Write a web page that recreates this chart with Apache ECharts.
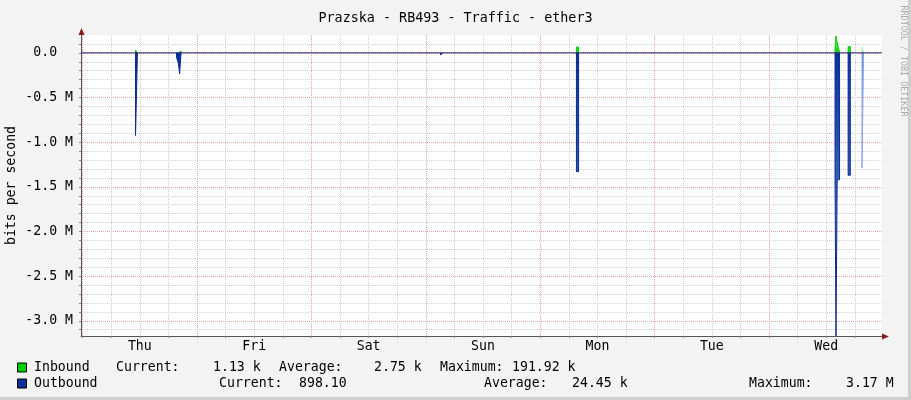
<!DOCTYPE html>
<html><head><meta charset="utf-8">
<script src="https://cdn.jsdelivr.net/npm/echarts@6/dist/echarts.min.js"></script>
<style>html,body{margin:0;padding:0;background:#f3f3f3}#c{width:911px;height:400px}</style>
</head><body><div id="c"></div>
<script>
// ---- data (hours since Thu 00:00, values in Mbit/s) ----
const chartTitle = 'Prazska - RB493 - Traffic - ether3';
const yAxisTitle = 'bits per second';
const dayLabels = ['Thu', 'Fri', 'Sat', 'Sun', 'Mon', 'Tue', 'Wed'];
const dayLabelHours = [12, 36, 60, 84, 108, 132, 156];
const xTickHours = [0, 6, 12, 18, 24, 30, 36, 42, 48, 54, 60, 66, 72, 78, 84, 90, 96, 102, 108, 114, 120, 126, 132, 138, 144, 150, 156, 162];
const yTickValues = [-3.1, -3.0, -2.9, -2.8, -2.7, -2.6, -2.5, -2.4, -2.3, -2.2, -2.1, -2.0, -1.9, -1.8, -1.7, -1.6, -1.5, -1.4, -1.3, -1.2, -1.1, -1.0, -0.9, -0.8, -0.7, -0.6, -0.5, -0.4, -0.3, -0.2, -0.1, 0, 0.1];
const yLabelValues = [-3.0, -2.5, -2.0, -1.5, -1.0, -0.5, 0];
const xRange = [-0.34, 167.66];
const yRange = [-3.17, 0.2];
const latestSampleStart = 163.5;   // most recent sample, drawn faded

// samples: [startHour, endHour, value]; value is 0 elsewhere
const inboundSamples = [
  [11.1, 11.5, 0.03], [20.1, 20.65, 0.02],
  [103.6, 104.05, 0.065],
  [157.85, 158.05, 0.06], [158.05, 158.3, 0.19], [158.3, 158.55, 0.11], [158.55, 158.8, 0.06],
  [160.6, 161.05, 0.07], [163.5, 163.85, 0.065]
];
const outboundSamples = [
  [11.1, 11.5, -0.925], [19.7, 20.1, -0.05], [20.1, 20.35, -0.12], [20.35, 20.65, -0.235],
  [75.1, 75.5, -0.025], [103.6, 104.05, -1.33],
  [157.85, 158.05, -1.42], [158.05, 158.3, -3.17], [158.3, 158.8, -1.42],
  [160.6, 161.05, -1.37], [163.5, 163.85, -1.29]
];

const legendRows = [
  {color: '#00cc00', texts: [['Inbound', 34], ['Current:', 116], ['1.13 k', 213], ['Average:', 279], ['2.75 k', 374], ['Maximum:', 440], ['191.92 k', 512]]},
  {color: '#0a3299', texts: [['Outbound', 34], ['Current:', 219], ['898.10', 299], ['Average:', 484], ['24.45 k', 572], ['Maximum:', 749], ['3.17 M', 846]]}
];

// build step-shaped pieces, separated by nulls (value is 0 between pieces)
function toSteps(samples) {
  const pts = [];
  let prevEnd = null;
  samples.forEach(s => {
    if (prevEnd !== null && prevEnd !== s[0]) { pts.push([prevEnd, 0]); pts.push(null); }
    if (prevEnd !== s[0]) { pts.push([s[0], 0]); }
    pts.push([s[0], s[2]]);
    pts.push([s[1], s[2]]);
    prevEnd = s[1];
  });
  pts.push([prevEnd, 0]);
  return pts.map(p => p === null ? [null, null] : p);
}
const older = s => s[0] < latestSampleStart;
const latest = s => s[0] >= latestSampleStart;

// ---- chart ----
const FONT = '"DejaVu Sans Mono", monospace';
const FS = 13.2;
const chart = echarts.init(document.getElementById('c'), null, {renderer: 'canvas'});

const graphics = [
  {type: 'rect', shape: {x: 908, y: 0, width: 3, height: 400}, style: {fill: '#cfcfcf'}, silent: true},
  {type: 'rect', shape: {x: 0, y: 397, width: 911, height: 3}, style: {fill: '#cfcfcf'}, silent: true},
  {type: 'line', shape: {x1: 81.5, y1: 35, x2: 81.5, y2: 31}, style: {stroke: '#555', lineWidth: 1}},
  {type: 'line', shape: {x1: 881, y1: 336.5, x2: 885, y2: 336.5}, style: {stroke: '#555', lineWidth: 1}},
  {type: 'polygon', shape: {points: [[81.5, 28], [78.5, 35], [84.5, 35]]}, style: {fill: '#8b1a1a'}},
  {type: 'polygon', shape: {points: [[889, 336.5], [882, 333.5], [882, 339.5]]}, style: {fill: '#8b1a1a'}},
  {type: 'text', x: 903, y: 61, rotation: -Math.PI / 2, style: {text: 'RRDTOOL / TOBI OETIKER', font: '8.4px ' + FONT, fill: '#aaaaaa', align: 'center', verticalAlign: 'middle'}}
];
legendRows.forEach((row, i) => {
  const yc = 368 + i * 16;
  graphics.push({type: 'rect', shape: {x: 17.5, y: yc - 5, width: 9, height: 9}, style: {fill: row.color, stroke: '#000', lineWidth: 1}});
  row.texts.forEach(t => {
    graphics.push({type: 'text', x: t[1], y: yc, style: {text: t[0], font: FS + 'px ' + FONT, fill: '#000', verticalAlign: 'middle', align: 'left'}});
  });
});

const gridGray = '#d0d0d0', gridRed = '#eda3a3';
const PXH = 800.8 / 168;      // px per hour
const PXM = 301 / 3.37;       // px per Mbit
const hidden = {show: false};
const hiddenAxis = (extra) => Object.assign({axisLine: hidden, axisTick: hidden, axisLabel: hidden, splitLine: hidden}, extra);
const grad = (c0, c1, c2) => ({type: 'linear', x: 0, y: 0, x2: 0, y2: 1, colorStops: c2 ? [{offset: 0, color: c0}, {offset: 0.5, color: c1}, {offset: 1, color: c2}] : [{offset: 0, color: c0}, {offset: 1, color: c1}]});
const stepSeries = (name, data, z, lineColor, areaColor) => ({
  name, type: 'line', xAxisIndex: 0, yAxisIndex: 0, data, symbol: 'none', z, connectNulls: false,
  lineStyle: {width: 1, color: lineColor}, areaStyle: {opacity: 1, color: areaColor}
});

chart.setOption({
  animation: false,
  backgroundColor: '#f3f3f3',
  title: {text: chartTitle, left: 'center', top: 7, textStyle: {fontFamily: FONT, fontSize: 13.4, fontWeight: 'normal', color: '#000'}},
  grid: [
    {left: 81, top: 35, width: 800.8, height: 301, backgroundColor: '#ffffff', show: true, borderWidth: 0, outerBoundsMode: 'none', containLabel: false},
    {left: 81 + 0.34 * PXH, top: 35, width: 168 * PXH, height: 301, outerBoundsMode: 'none', containLabel: false},
    {left: 81, top: 35, width: 800.8, height: 3.4 * PXM, outerBoundsMode: 'none', containLabel: false},
    {left: 81, top: 35, width: 800.8, height: 3.7 * PXM, outerBoundsMode: 'none', containLabel: false}
  ],
  xAxis: [
    {
      type: 'value', gridIndex: 0, min: xRange[0], max: xRange[1], z: 5,
      axisLine: {show: true, onZero: false, lineStyle: {color: '#555', width: 1}},
      axisTick: {show: true, customValues: xTickHours, length: 2, lineStyle: {color: '#888'}},
      axisLabel: {customValues: dayLabelHours, margin: 4, color: '#000', fontFamily: FONT, fontSize: FS,
        formatter: v => dayLabels[dayLabelHours.indexOf(Math.round(v))] || ''},
      splitLine: hidden
    },
    hiddenAxis({type: 'value', gridIndex: 1, min: 0, max: 168, interval: 6,
      splitLine: {show: true, showMinLine: true, showMaxLine: false, lineStyle: {color: gridGray, type: [1, 1], width: 1}}}),
    hiddenAxis({type: 'value', gridIndex: 1, min: 0, max: 168, interval: 24,
      splitLine: {show: true, showMinLine: true, showMaxLine: false, lineStyle: {color: gridRed, type: [1, 1], width: 1}}}),
    hiddenAxis({type: 'value', gridIndex: 2, min: 0, max: 1}),
    hiddenAxis({type: 'value', gridIndex: 3, min: 0, max: 1})
  ],
  yAxis: [
    {
      type: 'value', gridIndex: 0, min: yRange[0], max: yRange[1], z: 5,
      name: yAxisTitle, nameLocation: 'middle', nameGap: 63, nameRotate: 90, nameMoveOverlap: false,
      nameTextStyle: {fontFamily: FONT, fontSize: FS, color: '#000'},
      axisLine: {show: true, onZero: false, lineStyle: {color: '#555', width: 1}},
      axisTick: {show: true, customValues: yTickValues, length: 2, lineStyle: {color: '#888'}},
      axisLabel: {customValues: yLabelValues, margin: 8, color: '#000', fontFamily: FONT, fontSize: FS,
        formatter: v => Math.abs(v) < 1e-9 ? '0.0  ' : v.toFixed(1) + ' M'},
      splitLine: hidden
    },
    hiddenAxis({type: 'value', gridIndex: 1, min: 0, max: 1}),
    hiddenAxis({type: 'value', gridIndex: 2, min: -3.2, max: 0.2, interval: 0.1,
      splitLine: {show: true, showMinLine: false, showMaxLine: false, lineStyle: {color: gridGray, type: [1, 1], width: 1}}}),
    hiddenAxis({type: 'value', gridIndex: 3, min: -3.5, max: 0.2, interval: 0.5,
      splitLine: {show: true, showMinLine: false, showMaxLine: false, lineStyle: {color: gridRed, type: [1, 1], width: 1}}})
  ],
  graphic: graphics,
  series: [
    stepSeries('Inbound', toSteps(inboundSamples.filter(older)), 3, '#00cc00', grad('#a8f0a8', '#00d400')),
    stepSeries('Inbound (latest)', toSteps(inboundSamples.filter(latest)), 3, '#b4f0b4', grad('#e6fae6', '#9fe89f')),
    stepSeries('Outbound', toSteps(outboundSamples.filter(older)), 4, '#0a2a8c', grad('#0b2f9a', '#3d63c0', '#e6ecf9')),
    stepSeries('Outbound (latest)', toSteps(outboundSamples.filter(latest)), 4, '#8fa6e0', grad('#5f7fd0', '#d8e1f6')),
    {
      name: 'Zero', type: 'line', xAxisIndex: 0, yAxisIndex: 0, data: [[xRange[0], 0], [xRange[1], 0]], symbol: 'none', z: 6,
      lineStyle: {width: 1, color: '#1a1f66'}
    }
  ]
});
</script></body></html>
